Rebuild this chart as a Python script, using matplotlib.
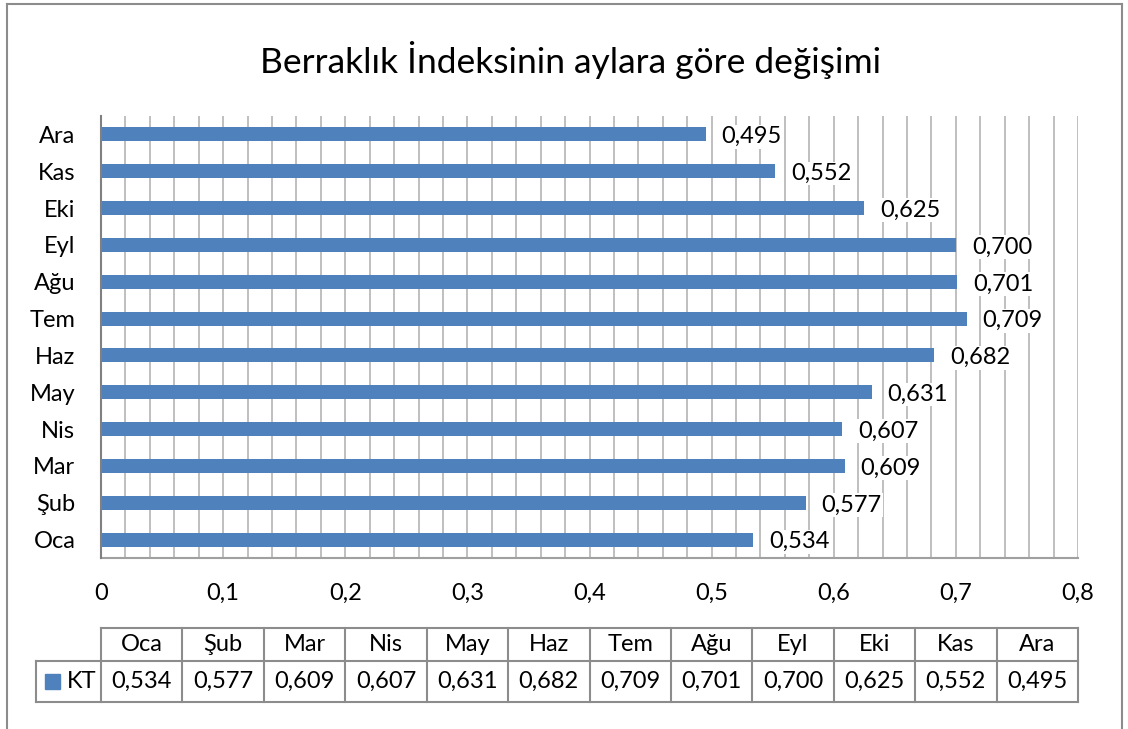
import matplotlib.pyplot as plt
from matplotlib.lines import Line2D
from matplotlib.patches import Rectangle
import numpy as np

plt.rcParams['font.family'] = ['Lato', 'DejaVu Sans']

months = ['Oca', 'Şub', 'Mar', 'Nis', 'May', 'Haz', 'Tem', 'Ağu', 'Eyl', 'Eki', 'Kas', 'Ara']
kt = [0.534, 0.577, 0.609, 0.607, 0.631, 0.682, 0.709, 0.701, 0.700, 0.625, 0.552, 0.495]
xticks = [0, 0.1, 0.2, 0.3, 0.4, 0.5, 0.6, 0.7, 0.8]
title = 'Berraklık İndeksinin aylara göre değişimi'
series_name = 'KT'

bar_color = '#4F81BD'
grid_color = '#BFBFBF'
frame_color = '#8C8C8C'
fs = 17

def fmt(v):
    return f'{v:.3f}'.replace('.', ',')

def fmt_tick(v):
    return ('%g' % v).replace('.', ',')

W, H = 1128, 729
fig = plt.figure(figsize=(W / 100, H / 100), dpi=100)

# outer chart frame (open at the bottom)
fig.add_artist(Line2D([7 / W, 7 / W], [0, 1 - 4 / H], color=frame_color, lw=1.5))
fig.add_artist(Line2D([7 / W, 1122 / W], [1 - 4 / H, 1 - 4 / H], color=frame_color, lw=1.5))
fig.add_artist(Line2D([1122 / W, 1122 / W], [0, 1 - 4 / H], color=frame_color, lw=1.5))

x0, x1 = 101, 1078
ax = fig.add_axes([x0 / W, 1 - 558 / H, (x1 - x0) / W, (558 - 116) / H])
y = np.arange(len(months))
ax.barh(y, kt, height=0.38, color=bar_color, zorder=3)
ax.set_xlim(0, 0.8)
ax.set_ylim(-0.5, len(months) - 0.5)
ax.set_xticks(xticks)
ax.set_xticklabels([fmt_tick(v) for v in xticks], fontsize=fs)
ax.set_xticks(np.arange(0, 0.81, 0.02), minor=True)
ax.set_yticks(y)
ax.set_yticklabels(months, fontsize=fs)
ax.tick_params(axis='both', length=0, which='both')
ax.tick_params(axis='x', pad=18)
ax.tick_params(axis='y', pad=18.5)
ax.grid(axis='x', which='both', color=grid_color, lw=1.4, zorder=0)
for s in ['top', 'right']:
    ax.spines[s].set_visible(False)
ax.spines['left'].set_color('#808080')
ax.spines['left'].set_linewidth(1.5)
ax.spines['left'].set_zorder(4)
ax.spines['bottom'].set_color('#A0A0A0')
ax.spines['bottom'].set_linewidth(1.5)
for yi, v in zip(y, kt):
    ax.text(v + 0.013, yi - 0.06, fmt(v), va='center', ha='left', fontsize=fs, zorder=5,
            bbox=dict(facecolor='white', edgecolor='none', pad=1))

fig.text(571 / W, 1 - 60 / H, title, ha='center', va='center', fontsize=25.5)

# data table below the chart
tab = fig.add_axes([x0 / W, 1 - 702 / H, (x1 - x0) / W, (702 - 628) / H])
tab.set_xlim(0, 0.8)
tab.set_ylim(0, 74)
tab.axis('off')
cw = 0.8 / len(months)
mid = 41
lab_left = (36 - x0) / (x1 - x0) * 0.8
lk = dict(color='#8C8C8C', lw=1.5, clip_on=False)
tab.plot([0, 0.8], [74, 74], **lk)
tab.plot([lab_left, 0.8], [mid, mid], **lk)
tab.plot([lab_left, 0.8], [0, 0], **lk)
tab.plot([lab_left, lab_left], [0, mid], **lk)
for i in range(len(months) + 1):
    tab.plot([i * cw, i * cw], [0, 74], **lk)
for i, (m, v) in enumerate(zip(months, kt)):
    cx = (i + 0.5) * cw
    tab.text(cx, (74 + mid) / 2, m, ha='center', va='center', fontsize=fs)
    tab.text(cx, mid / 2, fmt(v), ha='center', va='center', fontsize=fs)
px = 0.8 / (x1 - x0)
tab.add_patch(Rectangle(((45 - x0) * px, mid / 2 - 7), 15 * px, 15, color=bar_color, clip_on=False))
tab.text((67 - x0) * px, mid / 2, series_name, ha='left', va='center', fontsize=fs)

fig.savefig('out.png', dpi=100)
